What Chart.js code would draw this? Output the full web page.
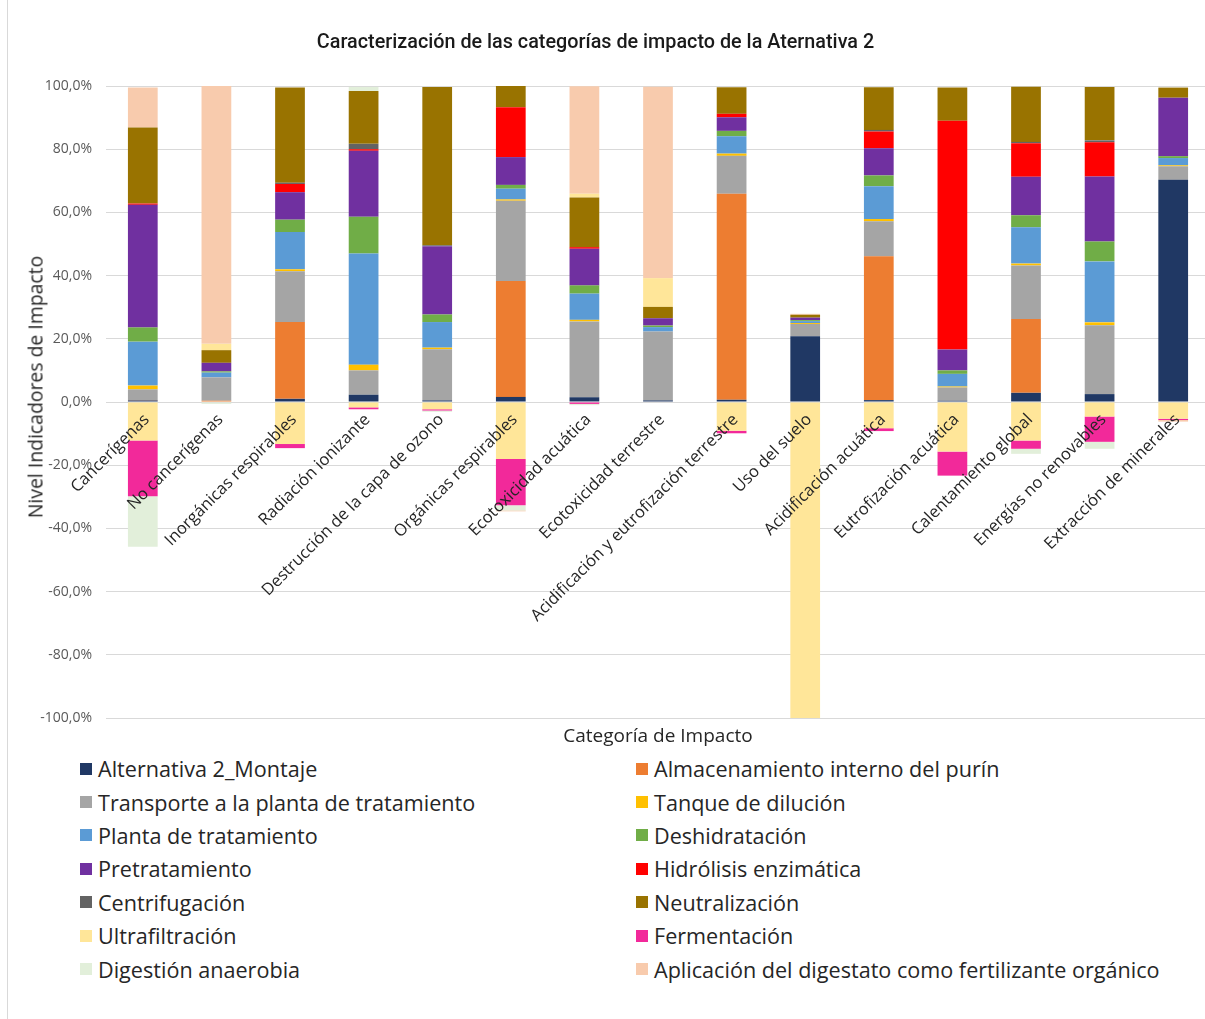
<!DOCTYPE html>
<html lang="es">
<head>
<meta charset="utf-8">
<title>Caracterización de las categorías de impacto</title>
<script src="https://cdn.jsdelivr.net/npm/chart.js@4.4.1/dist/chart.umd.min.js"></script>
<style>
  html, body { margin: 0; padding: 0; background: #fff; overflow: hidden; }
  #page { position: relative; width: 1205px; height: 1019px; overflow: hidden; font-family: "Open Sans", sans-serif; color: #262626; }
  #frame { position: absolute; left: 7px; top: -2px; width: 1300px; height: 1100px; border-left: 1px solid #d9d9d9; }
  #title { position: absolute; left: 0; top: 30px; width: 1191px; text-align: center; font-family: Roboto, sans-serif; font-weight: 500; font-size: 19.8px; color: #1a1a1a; }
  #ytitle { position: absolute; left: 35px; top: 387px; transform: translate(-50%, -50%) rotate(-90deg); font-size: 19.4px; white-space: nowrap; }
  #chart { position: absolute; left: 0; top: 0; }
  #legend { position: absolute; left: 80px; top: 752px; width: 1125px; display: grid; grid-template-columns: 556px auto; grid-auto-rows: 33.4px; }
  .item { display: flex; align-items: center; font-size: 21.6px; white-space: nowrap; }
  .item i { display: inline-block; width: 12px; height: 12px; margin-right: 6px; }
</style>
</head>
<body>
<div id="page">
  <div id="frame"></div>
  <canvas id="chart" width="1215" height="750"></canvas>
  <div id="title">Caracterización de las categorías de impacto de la Aternativa 2</div>
  <div id="ytitle">Nivel Indicadores de Impacto</div>
  <div id="legend"></div>
</div>
<script>
const categories = [
  'Cancerígenas', 'No cancerígenas', 'Inorgánicas respirables', 'Radiación ionizante',
  'Destrucción de la capa de ozono', 'Orgánicas respirables', 'Ecotoxicidad acuática',
  'Ecotoxicidad terrestre', 'Acidificación y eutrofización terrestre', 'Uso del suelo',
  'Acidificación acuática', 'Eutrofización acuática', 'Calentamiento global',
  'Energías no renovables', 'Extracción de minerales'
];

// contribution of each stage, % of the category total
const montaje        = [0.5, 0, 1.0, 2.3, 0.5, 1.6, 1.5, 0.5, 0.7, 20.8, 0.6, 0.4, 2.9, 2.5, 70.3];
const almacenamiento = [0.1, 0.4, 24.3, 0, 0, 36.7, 0, 0, 65.2, 0, 45.5, 0, 23.4, 0, 0];
const transporte     = [3.4, 7.4, 16.1, 7.7, 16.2, 25.4, 24.0, 21.8, 12.0, 3.9, 11.1, 4.2, 16.9, 21.8, 4.3];
const tanque         = [1.2, 0, 0.6, 1.8, 0.5, 0.4, 0.5, 0, 0.7, 0.3, 0.7, 0.3, 0.6, 0.9, 0.3];
const planta         = [13.9, 1.5, 11.8, 35.2, 8.1, 3.4, 8.3, 1.4, 5.5, 0.6, 10.4, 4.0, 11.5, 19.3, 2.3];
const deshidratacion = [4.5, 0.4, 3.9, 11.6, 2.4, 1.2, 2.6, 0.5, 1.7, 0.3, 3.4, 1.1, 3.8, 6.3, 0.6];
const pretratamiento = [38.8, 2.7, 8.7, 20.9, 21.6, 8.8, 11.6, 2.3, 4.3, 0.8, 8.6, 6.6, 12.2, 20.6, 18.5];
const hidrolisis     = [0.4, 0, 2.6, 0.5, 0, 15.8, 0.5, 0, 1.1, 0, 5.3, 72.4, 10.6, 10.8, 0];
const centrifugacion = [0, 0, 0.4, 1.7, 0.3, 0, 0, 0, 0, 0, 0.5, 0, 0.4, 0.6, 0];
const neutralizacion = [24.1, 4.0, 30.1, 16.7, 50.1, 6.7, 15.7, 3.6, 8.4, 0.9, 13.5, 10.5, 17.5, 16.9, 3.2];
const ultrafiltracion = [-12.2, 2.0, -13.3, -1.7, -2.3, -18.0, 1.2, 9.1, -9.1, -100, -8.3, -15.7, -12.2, -4.6, -5.3];
const fermentacion   = [-17.6, 0, -1.3, -0.6, -0.4, -14.7, -0.6, 0, -0.8, 0, -0.9, -7.6, -2.6, -8.0, -0.4];
const digestion      = [-16.0, -0.6, 0, 1.3, -0.4, -1.6, -0.4, 0, 0, 0, 0, 0, -1.6, -2.2, 0];
const aplicacion     = [12.6, 81.6, 0, 0, 0, -0.3, 34.0, 60.6, 0, 0.3, 0, 0, 0, 0, -0.5];

const yTicks = { min: -100, max: 100, step: 20 };

const series = [
  ['Alternativa 2_Montaje', montaje, '#203864'],
  ['Almacenamiento interno del purín', almacenamiento, '#ED7D31'],
  ['Transporte a la planta de tratamiento', transporte, '#A5A5A5'],
  ['Tanque de dilución', tanque, '#FFC000'],
  ['Planta de tratamiento', planta, '#5B9BD5'],
  ['Deshidratación', deshidratacion, '#70AD47'],
  ['Pretratamiento', pretratamiento, '#7030A0'],
  ['Hidrólisis enzimática', hidrolisis, '#FF0000'],
  ['Centrifugación', centrifugacion, '#636363'],
  ['Neutralización', neutralizacion, '#997300'],
  ['Ultrafiltración', ultrafiltracion, '#FFE699'],
  ['Fermentación', fermentacion, '#F2299A'],
  ['Digestión anaerobia', digestion, '#E2EFDA'],
  ['Aplicación del digestato como fertilizante orgánico', aplicacion, '#F8CBAD']
];

// category names are written slanted right under the zero line, over the bars
const categoryLabels = {
  id: 'categoryLabels',
  afterDatasetsDraw(chart) {
    const { ctx, scales: { x, y } } = chart;
    const y0 = y.getPixelForValue(0);
    ctx.save();
    ctx.font = '16.5px "Open Sans"';
    ctx.fillStyle = '#262626';
    ctx.textAlign = 'right';
    ctx.textBaseline = 'middle';
    categories.forEach((label, i) => {
      ctx.save();
      ctx.translate(x.getPixelForValue(i) + 4, y0 + 15);
      ctx.rotate(-Math.PI / 4);
      ctx.fillText(label, 0, 0);
      ctx.restore();
    });
    ctx.restore();
  }
};

new Chart(document.getElementById('chart'), {
  type: 'bar',
  data: {
    labels: categories,
    datasets: series.map(([label, data, color]) => ({
      label,
      data,
      backgroundColor: color,
      borderWidth: 0,
      barPercentage: 0.404,
      categoryPercentage: 1
    }))
  },
  options: {
    responsive: false,
    animation: false,
    layout: { padding: { left: 12, right: 5, top: 86, bottom: 2 } },
    plugins: { legend: { display: false }, tooltip: { enabled: false } },
    scales: {
      x: {
        stacked: true,
        grid: { display: false },
        border: { display: false },
        ticks: { display: false },
        title: {
          display: true,
          text: 'Categoría de Impacto',
          color: '#262626',
          font: { family: 'Open Sans', size: 19 },
          padding: { top: 3, bottom: 0 }
        },
        afterFit(scale) { scale.height = 30; }
      },
      y: {
        stacked: true,
        min: yTicks.min,
        max: yTicks.max,
        ticks: {
          stepSize: yTicks.step,
          color: '#595959',
          font: { family: 'Open Sans', size: 14 },
          padding: 14,
          callback: v => v.toFixed(1).replace('.', ',') + '%'
        },
        grid: { color: '#d9d9d9', drawTicks: false },
        border: { display: false },
        afterFit(scale) { scale.width = 94; }
      }
    }
  },
  plugins: [categoryLabels]
});

// two-column legend under the plot
const legend = document.getElementById('legend');
series.forEach(([label, , color]) => {
  const item = document.createElement('div');
  item.className = 'item';
  const box = document.createElement('i');
  box.style.background = color;
  item.appendChild(box);
  item.appendChild(document.createTextNode(label));
  legend.appendChild(item);
});
</script>
</body>
</html>
